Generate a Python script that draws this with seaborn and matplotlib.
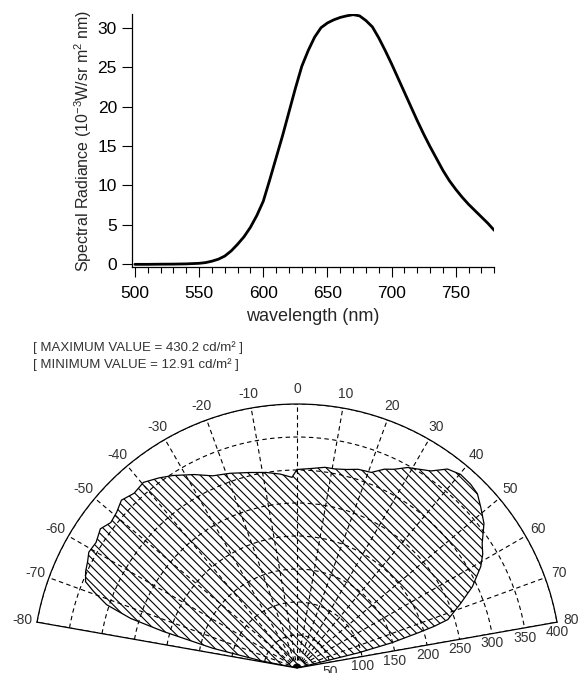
import numpy as np
import pandas as pd
import matplotlib
matplotlib.use("Agg")
import matplotlib.pyplot as plt
from matplotlib.ticker import MultipleLocator
import seaborn as sns

# spectral radiance
wavelength = [500, 510, 520, 530, 540, 550, 555, 560, 565, 570, 575, 580, 585,
              590, 595, 600, 605, 610, 615, 620, 625, 630, 635, 640, 645, 650,
              655, 660, 665, 670, 675, 680, 685, 690, 695, 700, 705, 710, 715,
              720, 725, 730, 735, 740, 745, 750, 755, 760, 765, 770, 775, 780]
radiance = [0.0, 0.0, 0.02, 0.03, 0.06, 0.13, 0.22, 0.40, 0.65, 1.05, 1.7, 2.55,
            3.5, 4.7, 6.2, 8.0, 10.7, 13.5, 16.3, 19.3, 22.3, 25.1, 27.1, 28.8,
            30.0, 30.6, 31.0, 31.3, 31.5, 31.65, 31.5, 30.9, 30.1, 28.7, 27.1,
            25.4, 23.6, 21.8, 20.0, 18.2, 16.5, 14.9, 13.4, 11.9, 10.6, 9.5,
            8.5, 7.6, 6.8, 6.0, 5.2, 4.3]

# luminance outline of the lower polar diagram (angle deg, cd/m2)
gon_angle = [-79, -78.7, -76.8, -74.7, -73.4, -71.6, -69.4, -67.8, -65.5, -63,
             -60.9, -58, -54.7, -52, -49.2, -46.3, -43, -39.6, -36, -32.8,
             -28, -23.7, -19, -13.8, -9, -5, -1.5, 0, 0.5, 4, 7.9, 10.7, 14,
             17.1, 20.8, 23.7, 26, 28.9, 31, 34.2, 37.1, 40.2, 43.4, 46.0,
             48.8, 52.3, 56.1, 58.5, 61.1, 65.1, 68.4, 72.2, 73.1, 73.8, 75.1,
             76.1, 77]
gon_value = [0, 54, 131, 210, 263, 304, 329, 346, 352, 356, 361, 359, 365, 358,
             361, 368, 362, 365, 356, 347, 332, 318, 312, 305, 300, 295, 289,
             301, 301, 303, 307, 307, 310, 315, 317, 329, 335, 347, 352, 361,
             378, 384, 383, 380, 370, 358, 338, 330, 318, 293, 267, 240, 217,
             191, 148, 96, 0]

theta_ticks = list(range(-80, 81, 10))
r_ticks = [50, 100, 150, 200, 250, 300, 350, 400]

sns.set_style("ticks")
plt.rcParams['font.family'] = ['Liberation Sans', 'DejaVu Sans']
plt.rcParams['mathtext.default'] = 'regular'
plt.rcParams['hatch.linewidth'] = 0.8

fig = plt.figure(figsize=(5.81, 6.73), dpi=100)

# --- spectrum ---
ax1 = fig.add_axes([0.2267, 0.6037, 0.6241, 0.3751])
df = pd.DataFrame({'wavelength': wavelength, 'radiance': radiance})
sns.lineplot(data=df, x='wavelength', y='radiance', ax=ax1, color='black', lw=2)
ax1.set_xlim(497.5, 780)
ax1.set_ylim(-0.3, 31.7)
ax1.set_xticks(range(500, 751, 50))
ax1.xaxis.set_minor_locator(MultipleLocator(10))
ax1.set_yticks(range(0, 31, 5))
ax1.tick_params(axis='both', which='major', direction='out', length=7.2,
                width=0.8, color='black', labelsize=12.5, labelcolor='black')
ax1.tick_params(axis='x', which='major', pad=7)
ax1.tick_params(axis='y', which='major', pad=3.4)
ax1.tick_params(axis='x', which='minor', direction='out', length=4.3,
                width=0.8, color='black')
ax1.set_xlabel('wavelength (nm)', fontsize=13, labelpad=5)
ax1.set_ylabel('Spectral Radiance (10$^{-3}$W/sr m$^{2}$ nm)', fontsize=11.5,
               labelpad=2.5)
sns.despine(ax=ax1)
for s in ['left', 'bottom']:
    ax1.spines[s].set_color('black')
    ax1.spines[s].set_linewidth(0.9)

# --- polar luminance diagram ---
fig.text(0.057, 0.483, '[ MAXIMUM VALUE = 430.2 cd/m² ]', fontsize=9.5,
         color='#333333', va='center')
fig.text(0.057, 0.4577, '[ MINIMUM VALUE = 12.91 cd/m² ]', fontsize=9.5,
         color='#333333', va='center')

ax2 = fig.add_axes([0.0637, -0.1828, 0.895, 0.7727], projection='polar')
ax2.set_theta_zero_location('N')
ax2.set_theta_direction(-1)
ax2.set_thetamin(-80)
ax2.set_thetamax(80)
ax2.set_rlim(0, 400)
ax2.fill(np.deg2rad(gon_angle), gon_value, facecolor='none',
         edgecolor='black', hatch='\\\\\\\\', lw=0.9, zorder=3)
ax2.set_thetagrids(theta_ticks, labels=[str(t) for t in theta_ticks])
ax2.set_rgrids(r_ticks, labels=[str(r) for r in r_ticks])
ax2.tick_params(axis='y', labelleft=False, labelright=True, length=0, pad=2,
                labelsize=10, labelcolor='#333333')
ax2.tick_params(axis='x', length=0, pad=3.5, labelsize=10, labelcolor='#333333')
ax2.grid(True, color='black', ls=(0, (4, 3)), lw=0.8)
for sp in ax2.spines.values():
    sp.set_linewidth(0.9)
    sp.set_color('black')

fig.savefig('out.png', dpi=100)
